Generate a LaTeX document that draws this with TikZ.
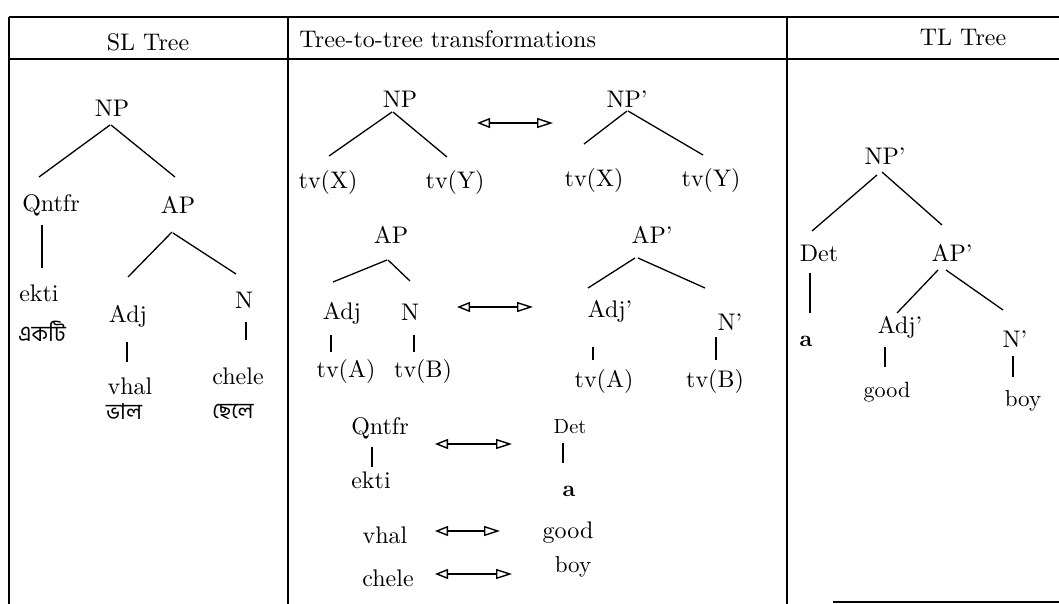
\documentclass[tikz,border=0pt]{standalone}
\usepackage{fontspec}
\newfontfamily\bengfont[Script=Bengali]{Hind Siliguri}
\usetikzlibrary{arrows.meta,calc}
\begin{document}
\begin{tikzpicture}[x=1pt,y=-1pt,
  lbl/.style={font=\fontsize{10}{12}\selectfont,scale=2.4,inner sep=0pt},
  hdr/.style={font=\fontsize{10}{12}\selectfont,scale=2.4,inner sep=0pt},
  beng/.style={font=\bengfont\fontsize{22}{26}\selectfont,inner sep=0pt},
  branch/.style={line width=1.3pt},
  rule/.style={line width=1.8pt},
  xfer/.style={line width=1.4pt,arrows={Triangle[open,length=13pt,width=10pt]-Triangle[open,length=16pt,width=10pt]}}]
\useasboundingbox (0,0) rectangle (1059,604);
\fill[white] (0,0) rectangle (1059,604);
% table
\draw[rule] (9,17) -- (1059,17);
\draw[rule] (9,59) -- (1059,59);
\draw[rule] (9,17) -- (9,604);
\draw[rule] (288,17) -- (288,604);
\draw[rule] (787,17) -- (787,604);
\draw[rule] (833,602) -- (1059,602);
% headers
\node[hdr] (hSL) at (148,42) {SL Tree};
\node[hdr,anchor=west] (hTT) at (299,39) {Tree-to-tree transformations};
\node[hdr] (hTL) at (963,37) {TL Tree};
% SL tree
\node[lbl] (sNP) at (112,108) {NP};
\node[lbl] (sQ) at (51,205) {Qntfr};
\node[lbl] (sAP) at (178,205) {AP};
\node[lbl] (sEkti) at (39,293) {ekti};
\node[beng] (sEktiB) at (42,331) {একটি};
\node[lbl] (sAdj) at (128,316) {Adj};
\node[lbl] (sN) at (244,300) {N};
\node[lbl] (sVhal) at (130,386) {vhal};
\node[lbl] (sChele) at (238,376) {chele};
\node[beng] (sVhalB) at (124,412) {ভাল};
\node[beng] (sCheleB) at (233,412) {ছেলে};
\draw[branch] ($(sNP.center)+(-2,17)$) -- ($(sQ.center)+(-12,-28)$);
\draw[branch] ($(sNP.center)+(-1,17)$) -- ($(sAP.center)+(-3,-28)$);
\draw[branch] ($(sQ.center)+(-9,20)$) -- ($(sEkti.center)+(3,-25)$);
\draw[branch] ($(sAP.center)+(-6,27)$) -- ($(sAdj.center)+(0,-39)$);
\draw[branch] ($(sAP.center)+(-5,28)$) -- ($(sN.center)+(-8,-26)$);
\draw[branch] ($(sAdj.center)+(-1,26)$) -- ($(sVhal.center)+(-3,-24)$);
\draw[branch] ($(sN.center)+(2,22)$) -- ($(sChele.center)+(8,-36)$);
% middle: NP
\node[lbl] (mNP) at (400,99) {NP};
\node[lbl] (mX) at (328,183) {tv(X)};
\node[lbl] (mY) at (455,183) {tv(Y)};
\node[lbl] (mNPp) at (627,99) {NP'};
\node[lbl] (mXp) at (594,180) {tv(X)};
\node[lbl] (mYp) at (711,180) {tv(Y)};
\draw[branch] ($(mNP.center)+(-8,13)$) -- ($(mX.center)+(1,-27)$);
\draw[branch] ($(mNP.center)+(-7,13)$) -- ($(mY.center)+(-8,-26)$);
\draw[branch] ($(mNPp.center)+(0,12)$) -- ($(mXp.center)+(-10,-36)$);
\draw[branch] ($(mNPp.center)+(1,12)$) -- ($(mYp.center)+(-8,-25)$);
\coordinate (a1l) at (477,123);
\coordinate (a1r) at (553,123);
\draw[xfer] (a1l) -- (a1r);
% middle: AP
\node[lbl] (mAP) at (391,235) {AP};
\node[lbl] (mAdj) at (342,313) {Adj};
\node[lbl] (mN) at (410,312) {N};
\node[lbl] (mA) at (346,371) {tv(A)};
\node[lbl] (mB) at (423,371) {tv(B)};
\draw[branch] ($(mAP.center)+(-4,25)$) -- ($(mAdj.center)+(-9,-31)$);
\draw[branch] ($(mAP.center)+(-3,25)$) -- ($(mN.center)+(0,-31)$);
\draw[branch] ($(mAdj.center)+(-11,22)$) -- ($(mA.center)+(-15,-19)$);
\draw[branch] ($(mN.center)+(4,23)$) -- ($(mB.center)+(-9,-19)$);
\node[lbl] (mAPp) at (652,235) {AP'};
\node[lbl] (mAdjp) at (610,311) {Adj'};
\node[lbl] (mNp) at (730,322) {N'};
\node[lbl] (mAp) at (604,381) {tv(A)};
\node[lbl] (mBp) at (715,381) {tv(B)};
\draw[branch] ($(mAPp.center)+(-17,23)$) -- ($(mAdjp.center)+(-22,-23)$);
\draw[branch] ($(mAPp.center)+(-14,23)$) -- ($(mNp.center)+(-25,-34)$);
\draw[branch] ($(mAdjp.center)+(-17,36)$) -- ($(mAp.center)+(-11,-21)$);
\draw[branch] ($(mNp.center)+(-14,15)$) -- ($(mBp.center)+(1,-21)$);
\coordinate (a2l) at (457,307);
\coordinate (a2r) at (533,307);
\draw[xfer] (a2l) -- (a2r);
% middle: words
\node[lbl] (bQ) at (380,428) {Qntfr};
\node[lbl,scale=0.85] (bDet) at (570,427) {Det};
\node[lbl] (bEkti) at (371,480) {ekti};
\node[lbl,font=\fontsize{10}{12}\selectfont\bfseries,scale=0.95] (bA) at (569,491) {a};
\draw[branch] ($(bQ.center)+(-8,19)$) -- ($(bEkti.center)+(1,-13)$);
\draw[branch] ($(bDet.center)+(-7,16)$) -- ($(bA.center)+(-6,-28)$);
\coordinate (a3l) at (435,444);
\coordinate (a3r) at (512,444);
\draw[xfer] (a3l) -- (a3r);
\node[lbl] (bVhal) at (385,535) {vhal};
\node[lbl] (bGood) at (568,533) {good};
\coordinate (a4l) at (435,531);
\coordinate (a4r) at (500,531);
\draw[xfer] (a4l) -- (a4r);
\node[lbl] (bChele) at (388,578) {chele};
\node[lbl,scale=0.96] (bBoy) at (573,567) {boy};
\coordinate (a5l) at (435,574);
\coordinate (a5r) at (512,574);
\draw[xfer] (a5l) -- (a5r);
% TL tree
\node[lbl] (rNP) at (885,156) {NP'};
\node[lbl] (rDet) at (819,253) {Det};
\node[lbl] (rAP) at (952,253) {AP'};
\node[lbl,font=\fontsize{10}{12}\selectfont\bfseries,scale=0.95] (rA) at (806,341) {a};
\node[lbl] (rAdj) at (900,327) {Adj'};
\node[lbl] (rN) at (1015,339) {N'};
\node[lbl,scale=0.92] (rGood) at (887,392) {good};
\node[lbl,scale=0.96] (rBoy) at (1023,401) {boy};
\draw[branch] ($(rNP.center)+(-8,19)$) -- ($(rDet.center)+(-7,-22)$);
\draw[branch] ($(rNP.center)+(-3,16)$) -- ($(rAP.center)+(-10,-28)$);
\draw[branch] ($(rDet.center)+(-9,20)$) -- ($(rA.center)+(4,-28)$);
\draw[branch] ($(rAP.center)+(-14,17)$) -- ($(rAdj.center)+(-3,-14)$);
\draw[branch] ($(rAP.center)+(-6,17)$) -- ($(rN.center)+(-12,-29)$);
\draw[branch] ($(rAdj.center)+(-15,20)$) -- ($(rGood.center)+(-2,-25)$);
\draw[branch] ($(rN.center)+(-2,17)$) -- ($(rBoy.center)+(-10,-24)$);
\end{tikzpicture}
\end{document}
